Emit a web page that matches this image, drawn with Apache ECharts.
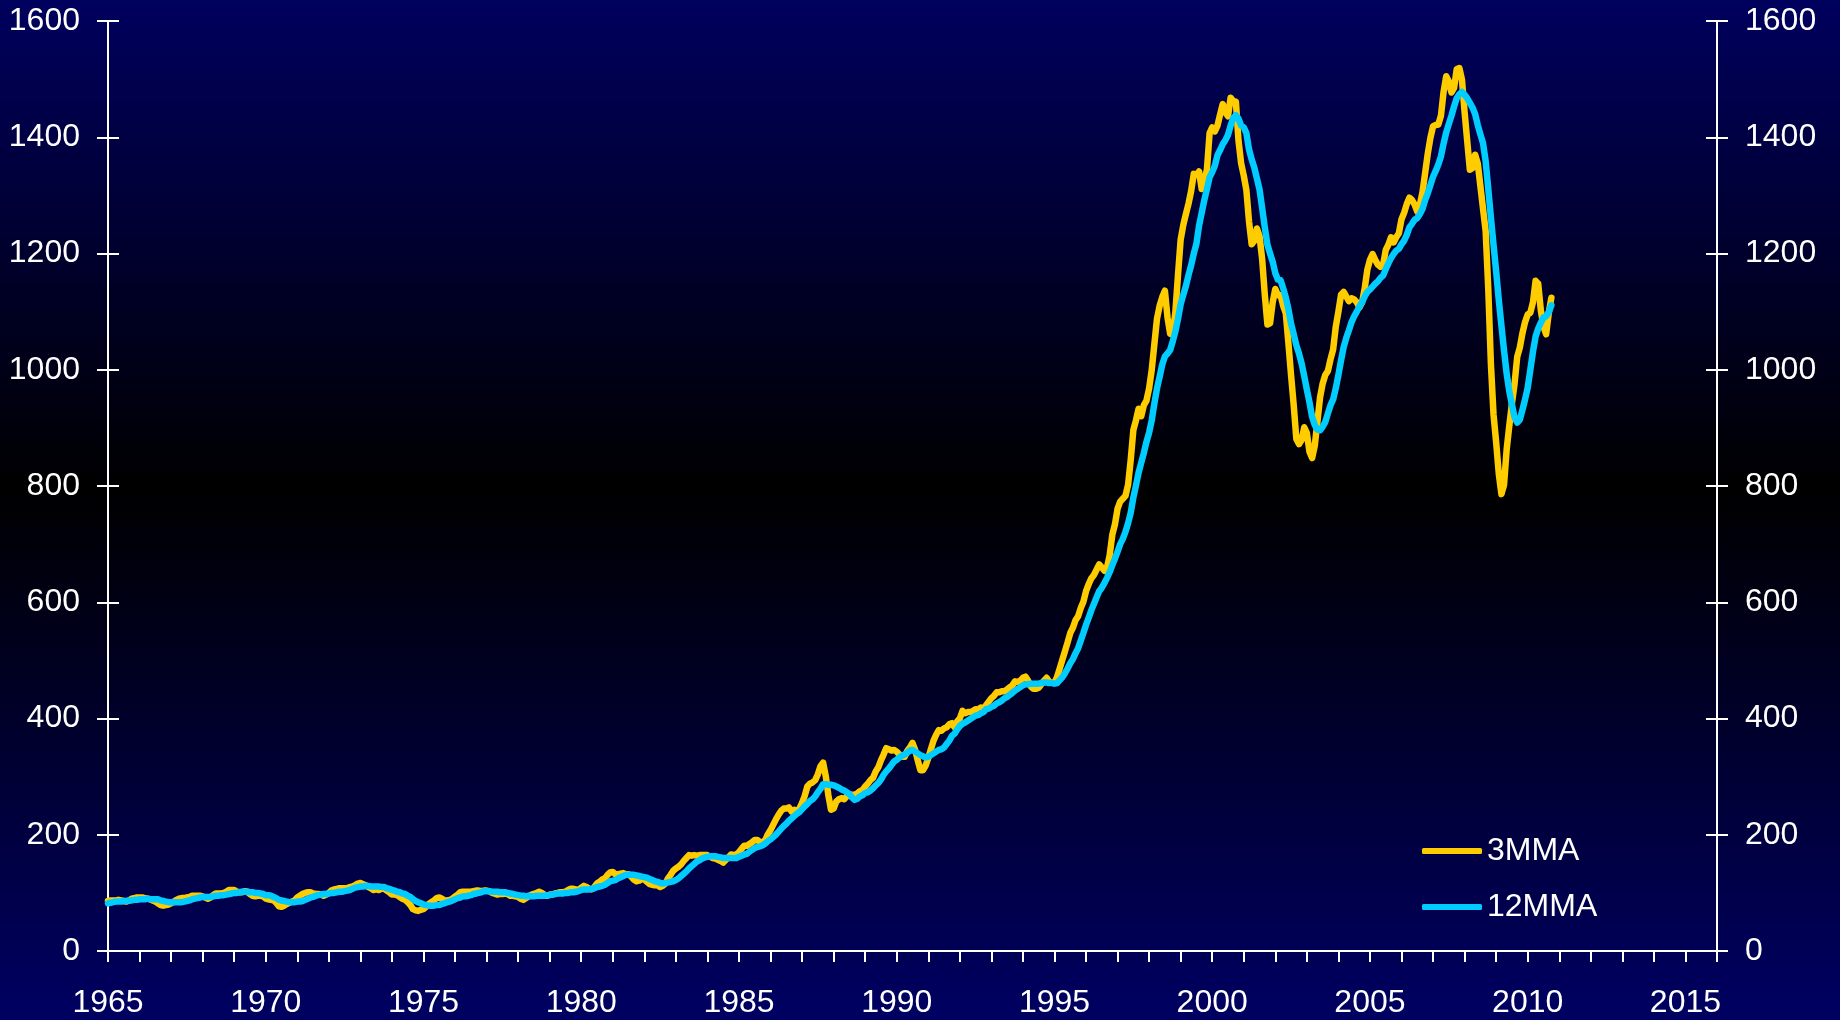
<!DOCTYPE html>
<html>
<head>
<meta charset="utf-8">
<script src="https://cdn.jsdelivr.net/npm/echarts@6/dist/echarts.min.js"></script>
<style>
html,body{margin:0;padding:0;background:#000;}
#chart{width:1840px;height:1020px;}
</style>
</head>
<body>
<div id="chart"></div>
<script>
// Monthly series, first value = Jan 1965, one row per year (last row ends Oct 2010)
const startYear = 1965;
const seriesNames = ['3MMA', '12MMA'];
const ma3 = [
86,87,87,87,88,87,86,85,87,90,91,92,
92,92,91,90,89,87,85,82,79,78,79,80,
82,85,88,90,91,91,92,93,95,95,95,95,
94,92,90,92,96,99,99,99,100,102,105,105,
105,102,101,101,103,102,98,95,94,95,95,94,
90,89,88,87,83,77,76,78,81,83,85,87,
92,95,98,100,101,101,99,98,98,97,95,97,
100,104,106,107,108,108,108,108,110,111,113,116,
117,115,113,110,108,105,106,105,107,107,104,101,
97,97,96,93,90,88,84,79,72,70,69,71,
72,76,81,84,87,91,92,90,87,87,88,90,
94,97,101,102,102,102,102,103,104,104,103,104,
104,103,100,99,97,98,98,99,98,95,95,94,
93,90,88,91,94,97,98,100,102,100,97,95,
97,97,99,100,101,101,102,105,107,107,106,105,
109,112,110,107,106,110,116,119,123,125,131,135,
136,132,132,133,134,132,132,128,123,120,121,124,
123,119,115,114,113,113,110,112,116,125,131,138,
142,145,149,155,160,165,164,165,164,165,165,165,
165,162,160,159,157,155,152,157,161,166,165,166,
170,176,181,181,184,187,191,191,187,187,191,201,
208,217,226,234,241,245,245,247,240,243,241,245,
255,267,283,288,290,294,304,318,324,301,268,243,
245,257,261,263,261,266,269,269,269,271,275,277,
283,288,294,298,309,316,328,338,349,347,345,346,
343,338,334,334,344,350,358,346,328,311,311,319,
332,347,362,372,380,379,383,385,390,392,385,395,
400,413,409,411,411,413,416,415,419,417,423,429,
435,439,445,445,447,447,450,454,457,464,463,465,
470,472,465,455,451,451,453,459,465,470,463,462,
461,472,486,501,516,531,547,556,569,576,590,601,
619,631,641,647,656,665,660,654,660,681,716,734,
761,773,778,783,802,845,896,913,933,920,939,947,
968,1000,1044,1088,1110,1125,1136,1090,1062,1060,1100,1164,
1224,1249,1268,1286,1308,1337,1335,1341,1311,1322,1345,1407,
1417,1410,1420,1439,1457,1443,1436,1468,1462,1461,1394,1355,
1334,1309,1255,1216,1222,1243,1230,1190,1129,1078,1080,1116,
1139,1128,1128,1110,1097,1045,990,939,881,872,879,901,
891,859,848,869,910,952,976,991,998,1018,1035,1074,
1100,1129,1134,1126,1118,1123,1121,1116,1107,1116,1140,1172,
1189,1199,1189,1181,1177,1180,1206,1215,1228,1219,1228,1235,
1259,1270,1285,1296,1292,1284,1272,1284,1306,1339,1372,1399,
1419,1421,1422,1437,1478,1505,1496,1477,1485,1517,1519,1499,
1443,1393,1344,1347,1370,1355,1316,1277,1239,1139,1010,923,
875,821,786,802,863,904,942,976,1022,1038,1063,1082,
1095,1098,1116,1153,1148,1102,1074,1061,1097,1124
];
const ma12 = [
82,83,84,85,85,85,86,86,87,87,88,88,
89,89,89,90,89,89,89,89,87,86,85,84,
84,84,84,84,84,85,86,87,89,90,91,92,
93,93,93,93,94,95,95,96,96,97,98,99,
100,100,101,102,102,102,101,101,100,100,99,98,
96,96,95,93,91,88,87,86,85,84,84,84,
85,85,86,88,90,92,93,95,96,97,98,98,
99,100,100,101,102,102,103,104,105,107,109,110,
111,111,112,112,111,111,111,111,110,110,108,107,
105,104,102,101,99,98,95,93,89,86,84,82,
80,79,78,78,78,79,79,81,82,84,85,87,
89,91,92,94,94,95,96,98,99,100,101,103,
103,103,102,102,102,101,101,101,100,99,98,97,
96,95,95,94,95,94,94,95,95,95,95,96,
96,97,98,99,99,99,100,100,101,101,102,103,
105,106,106,106,107,108,110,111,112,114,117,120,
121,122,125,127,129,131,131,131,131,130,129,128,
127,126,124,122,120,119,117,116,117,118,119,120,
122,125,129,133,137,142,146,150,154,156,159,161,
162,163,163,163,162,161,160,160,160,160,160,160,
162,164,166,167,171,174,177,179,180,182,185,189,
192,196,200,205,210,215,219,224,228,232,236,239,
244,249,253,258,261,266,273,279,287,287,286,286,
285,283,281,278,276,273,270,264,260,262,266,268,
272,273,276,280,285,289,295,303,309,314,320,326,
329,333,336,338,341,345,346,343,340,337,335,333,
334,337,340,343,346,347,350,356,362,370,374,381,
387,391,393,396,399,402,405,406,409,411,416,417,
420,422,426,428,431,435,437,441,444,448,451,454,
457,459,459,460,460,460,460,461,462,462,461,461,
460,461,466,471,478,486,495,502,512,521,534,547,
561,573,586,597,608,619,625,633,642,652,664,675,
687,700,709,721,736,754,780,801,823,840,857,876,
892,913,942,968,988,1009,1023,1028,1034,1049,1066,1088,
1113,1129,1144,1163,1180,1200,1217,1248,1270,1292,1311,1331,
1340,1351,1369,1378,1388,1395,1404,1420,1433,1438,1432,1420,
1417,1407,1379,1362,1348,1329,1310,1278,1245,1215,1200,1186,
1166,1155,1154,1140,1124,1104,1079,1061,1042,1028,1011,989,
966,944,919,905,897,896,902,910,925,939,949,968,
991,1016,1039,1055,1068,1082,1092,1100,1109,1116,1126,1134,
1138,1143,1148,1152,1158,1162,1173,1183,1192,1199,1205,1208,
1216,1222,1232,1245,1251,1258,1261,1268,1277,1292,1304,1318,
1332,1342,1353,1367,1389,1408,1423,1437,1453,1467,1474,1478,
1473,1467,1459,1451,1440,1421,1405,1390,1359,1311,1262,1215,
1169,1120,1076,1033,993,963,940,918,909,914,931,949,
969,1000,1031,1057,1071,1081,1090,1092,1099,1111
];
const xLabelYears = [1965,1970,1975,1980,1985,1990,1995,2000,2005,2010,2015];
const yTickValues = [0,200,400,600,800,1000,1200,1400,1600];

const FONT = '"Liberation Sans", Arial, sans-serif';
const WHITE = '#ffffff';

function toPairs(arr) {
  return arr.map((v, i) => [startYear + i / 12, v]);
}

const chart = echarts.init(document.getElementById('chart'), null, {renderer: 'canvas'});

const yMin = yTickValues[0], yMax = yTickValues[yTickValues.length - 1];
const yStep = yTickValues[1] - yTickValues[0];
const xMin = xLabelYears[0], xMax = xLabelYears[xLabelYears.length - 1] + 1;

function yAxisDef(pos, showLabels, inside) {
  return {
    type: 'value', position: pos, min: yMin, max: yMax, interval: yStep,
    axisLine: {show: showLabels, lineStyle: {color: WHITE, width: 2}},
    axisTick: {show: true, inside: inside, length: 11, lineStyle: {color: WHITE, width: 2}},
    axisLabel: {show: showLabels, color: WHITE, fontSize: 32, fontFamily: FONT, margin: 28,
      formatter: v => String(v)},
    splitLine: {show: false}
  };
}

chart.setOption({
  animation: false,
  backgroundColor: new echarts.graphic.LinearGradient(0, 0, 0, 1, [
    {offset: 0, color: '#00005e'},
    {offset: 0.48, color: '#000000'},
    {offset: 1, color: '#000062'}
  ]),
  grid: {left: 108, right: 123, top: 21, bottom: 69, containLabel: false},
  legend: {
    orient: 'vertical', left: 1417, top: 830,
    itemWidth: 60, itemHeight: 6, itemGap: 24,
    icon: 'roundRect',
    textStyle: {color: WHITE, fontSize: 32, fontFamily: FONT},
    data: seriesNames
  },
  xAxis: {
    type: 'value', min: xMin, max: xMax, interval: 1,
    axisLine: {show: true, lineStyle: {color: WHITE, width: 2}},
    axisTick: {show: true, length: 11, lineStyle: {color: WHITE, width: 2}},
    axisLabel: {
      color: WHITE, fontSize: 32, fontFamily: FONT, margin: 36,
      formatter: v => xLabelYears.indexOf(Math.round(v)) >= 0 && Math.abs(v - Math.round(v)) < 1e-6 ? String(Math.round(v)) : ''
    },
    splitLine: {show: false}
  },
  yAxis: [
    yAxisDef('left', true, false),
    yAxisDef('left', false, true),
    yAxisDef('right', true, false),
    yAxisDef('right', false, true)
  ],
  series: [
    {
      name: seriesNames[0], type: 'line', yAxisIndex: 0, showSymbol: false, symbol: 'none',
      data: toPairs(ma3),
      itemStyle: {color: '#ffcc00'},
      lineStyle: {color: '#ffcc00', width: 6.5, join: 'round', cap: 'round'}
    },
    {
      name: seriesNames[1], type: 'line', yAxisIndex: 0, showSymbol: false, symbol: 'none',
      data: toPairs(ma12),
      itemStyle: {color: '#00ccff'},
      lineStyle: {color: '#00ccff', width: 6.5, join: 'round', cap: 'round'}
    }
  ]
});
</script>
</body>
</html>
